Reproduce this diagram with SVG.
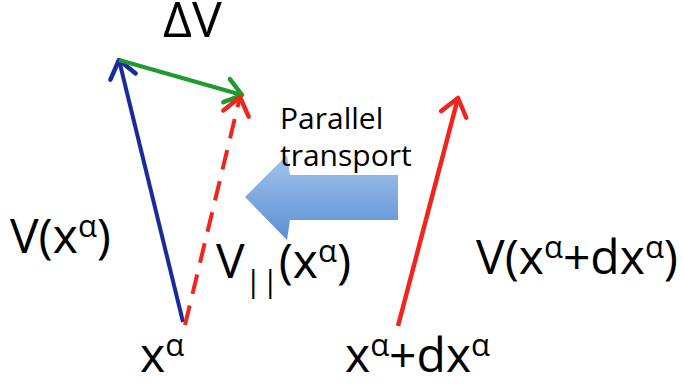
<svg xmlns="http://www.w3.org/2000/svg" width="683" height="385" viewBox="0 0 683 385">
<style>
.t{font-family:"Open Sans","Liberation Sans",sans-serif;fill:#000}
.big{font-size:48px}
.sup{font-size:31px}
.lab{font-size:30px}
</style>
<defs>
<linearGradient id="bg" x1="0" y1="0" x2="0" y2="1">
<stop offset="0" stop-color="#a3c4ec"/>
<stop offset="1" stop-color="#5a8fd2"/>
</linearGradient>
<marker id="ab" viewBox="0 0 40 40" refX="20" refY="20" markerWidth="40" markerHeight="40" markerUnits="userSpaceOnUse" orient="auto"><path d="M3,7 L20,20 L3,33" fill="none" stroke="#1a2a9a" stroke-width="4.5" stroke-linecap="round" stroke-linejoin="round"/></marker>
<marker id="ag" viewBox="0 0 40 40" refX="20" refY="20" markerWidth="40" markerHeight="40" markerUnits="userSpaceOnUse" orient="auto"><path d="M4,8 L20,20 L4,32" fill="none" stroke="#1e9a2e" stroke-width="4.5" stroke-linecap="round" stroke-linejoin="round"/></marker>
<marker id="ar" viewBox="0 0 40 40" refX="20" refY="20" markerWidth="40" markerHeight="40" markerUnits="userSpaceOnUse" orient="auto"><path d="M3,7 L20,20 L3,33" fill="none" stroke="#f0261e" stroke-width="4.5" stroke-linecap="round" stroke-linejoin="round"/></marker>
</defs>
<g id="connectors">
<line x1="183" y1="322" x2="119" y2="60" stroke="#1a2a9a" stroke-width="4" marker-end="url(#ab)"/>
<line x1="119" y1="60" x2="242" y2="95" stroke="#1e9a2e" stroke-width="4" marker-end="url(#ag)"/>
<line x1="185" y1="325" x2="240" y2="97" stroke="#f0261e" stroke-width="4" stroke-dasharray="20,12" marker-end="url(#ar)"/>
<line x1="398" y1="326" x2="458" y2="98" stroke="#f0261e" stroke-width="4.5" marker-end="url(#ar)"/>
</g>
<g id="transport-arrow">
<path d="M398,175 L290,175 L287,155 L245,197 L287,240 L290,220 L398,220 Z" fill="url(#bg)"/>
</g>
<g id="labels">
<text class="t" font-size="50" x="163" y="37">ΔV</text>
<text class="t lab" x="280" y="129">Parallel</text>
<text class="t lab" x="280" y="166">transport</text>
<text class="t big" x="10" y="253">V(x<tspan class="sup" dy="-16">α</tspan><tspan dy="16">)</tspan></text>
<text class="t big" x="216" y="278">V<tspan class="sup" dy="14">||</tspan><tspan dy="-14">(x</tspan><tspan class="sup" dy="-16">α</tspan><tspan dy="16">)</tspan></text>
<text class="t big" x="140" y="372">x<tspan class="sup" dy="-16">α</tspan></text>
<text class="t big" x="345" y="372">x<tspan class="sup" dy="-16">α</tspan><tspan dy="16">+dx</tspan><tspan class="sup" dy="-16">α</tspan></text>
<text class="t big" x="476" y="274" textLength="202">V(x<tspan class="sup" dy="-16">α</tspan><tspan dy="16">+dx</tspan><tspan class="sup" dy="-16">α</tspan><tspan dy="16">)</tspan></text>
</g>
</svg>
